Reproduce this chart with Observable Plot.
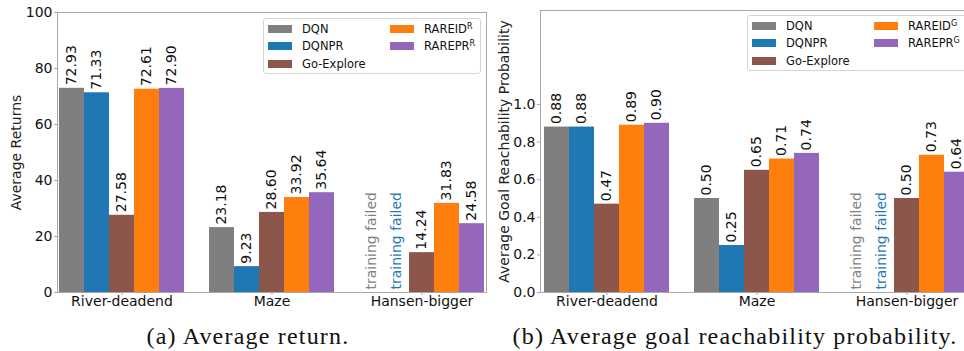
<!DOCTYPE html>
<html><head><meta charset="utf-8">
<script src="https://cdn.jsdelivr.net/npm/d3@7"></script>
<script src="https://cdn.jsdelivr.net/npm/@observablehq/plot@0.6"></script>
<style>
html,body{margin:0;padding:0;background:#fff;overflow:hidden;}
#root{position:relative;width:964px;height:351px;overflow:hidden;font-family:"DejaVu Sans",sans-serif;}
.panel{position:absolute;top:0;}
.panel svg{overflow:visible;max-width:none !important;}
.legend{position:absolute;border:1px solid #d4d4d4;border-radius:3px;background:rgba(255,255,255,0.85);font-size:11.5px;color:#111;box-sizing:border-box;}
.item{position:absolute;white-space:nowrap;line-height:12px;height:12px;}
.sw{position:absolute;width:24px;height:8px;top:2px;}
.lt{position:absolute;left:34px;top:0;}
.lt sup{font-size:0.7em;vertical-align:0;position:relative;top:-0.55em;}
.caption{position:absolute;top:324px;font-family:"Liberation Serif",serif;font-size:24px;line-height:24px;letter-spacing:1.2px;color:#111;transform:translateX(-50%);white-space:nowrap;}
</style></head>
<body><div id="root"></div>
<script>
// ---- data ----
const groups = ["River-deadend", "Maze", "Hansen-bigger"];
const methods = ["DQN", "DQNPR", "Go-Explore", "RAREID", "RAREPR"];
const colors = ["#7f7f7f", "#1f77b4", "#8c564b", "#ff7f0e", "#9467bd"];

// (a) Average return, per method, over groups (null = training failed)
const returnDQN       = [72.93, 23.18, null];
const returnDQNPR     = [71.33, 9.23, null];
const returnGoExplore = [27.58, 28.60, 14.24];
const returnRAREID    = [72.61, 33.92, 31.83];
const returnRAREPR    = [72.90, 35.64, 24.58];

// (b) Average goal reachability probability
const reachDQN       = [0.88, 0.50, null];
const reachDQNPR     = [0.88, 0.25, null];
const reachGoExplore = [0.47, 0.65, 0.50];
const reachRAREID    = [0.89, 0.71, 0.73];
const reachRAREPR    = [0.90, 0.74, 0.64];

const returnTicks = [0, 20, 40, 60, 80, 100];
const reachTicks = [0, 0.2, 0.4, 0.6, 0.8, 1.0];
const failedText = "training failed";

const root = document.getElementById("root");
const spine = "#a8a8a8";

function panel({series, yDomain, yTicks, tickFmt, ylabel, sup, left, width, marginLeft, marginTop, labelOffset, legendLeft, legendTop, legendWidth}) {
  const data = groups.flatMap((g, gi) => methods.map((m, mi) => ({group: g, method: m, value: series[mi][gi]})));
  const slots = groups.flatMap((g, gi) => [...methods.map(m => g + "|" + m), ...(gi < groups.length - 1 ? ["gap" + gi] : [])]);
  const key = d => d.group + "|" + d.method;
  const ok = data.filter(d => d.value != null);
  const failed = data.filter(d => d.value == null);
  const chart = Plot.plot({
    width, height: 320,
    marginLeft, marginTop, marginRight: 4, marginBottom: 28,
    style: {fontFamily: "DejaVu Sans", fontSize: "14px", color: "#111", background: "transparent", overflow: "visible"},
    x: {type: "band", domain: slots, padding: 0, axis: null},
    y: {domain: yDomain, axis: null},
    color: {domain: methods, range: colors},
    marks: [
      Plot.barY(ok, {x: key, y: "value", fill: "method"}),
      Plot.text(ok, {x: key, y: "value", text: d => d.value.toFixed(2), rotate: -90, textAnchor: "start", lineAnchor: "middle", dy: -3, fontSize: 14, fill: "#111"}),
      Plot.text(failed, {x: key, y: () => 0, text: () => failedText, rotate: -90, textAnchor: "start", lineAnchor: "middle", dy: -3, fontSize: 14, fill: "method"}),
      Plot.frame({stroke: spine}),
      Plot.axisY({ticks: yTicks, tickFormat: tickFmt, tickSize: 3, tickPadding: 2, stroke: spine, color: "#111", label: null, fontSize: 14}),
      Plot.axisX({ticks: groups.map(g => g + "|Go-Explore"), tickFormat: s => s.split("|")[0], tickSize: 3, tickPadding: 1, stroke: spine, color: "#111", label: null, fontSize: 14}),
      Plot.text([ylabel], {frameAnchor: "left", rotate: -90, dx: -labelOffset, text: d => d, textAnchor: "middle", lineAnchor: "middle", fontSize: 14, fill: "#222"})
    ]
  });
  const wrap = document.createElement("div");
  wrap.className = "panel";
  wrap.style.left = left + "px";
  wrap.style.width = width + "px";
  wrap.appendChild(chart);
  root.appendChild(wrap);

  // legend (two columns)
  const lg = document.createElement("div");
  lg.className = "legend";
  lg.style.left = legendLeft + "px";
  lg.style.top = legendTop + "px";
  lg.style.width = legendWidth + "px";
  lg.style.height = "56px";
  const rowsY = [4, 21, 39];
  methods.forEach((m, i) => {
    const col = i < 3 ? 0 : 1;
    const row = i < 3 ? i : i - 3;
    const it = document.createElement("div");
    it.className = "item";
    it.style.left = (col === 0 ? 4 : 126) + "px";
    it.style.top = rowsY[row] + "px";
    const sw = document.createElement("span");
    sw.className = "sw";
    sw.style.background = colors[i];
    const t = document.createElement("span");
    t.className = "lt";
    t.textContent = m;
    if (i >= 3) { const s = document.createElement("sup"); s.textContent = sup; t.appendChild(s); }
    it.appendChild(sw); it.appendChild(t);
    lg.appendChild(it);
  });
  root.appendChild(lg);
}

panel({
  series: [returnDQN, returnDQNPR, returnGoExplore, returnRAREID, returnRAREPR],
  yDomain: [0, 100], yTicks: returnTicks, tickFmt: d => String(d),
  ylabel: "Average Returns", sup: "R",
  left: 0, width: 490, marginLeft: 57, marginTop: 12, labelOffset: 41,
  legendLeft: 263, legendTop: 18, legendWidth: 218
});
panel({
  series: [reachDQN, reachDQNPR, reachGoExplore, reachRAREID, reachRAREPR],
  yDomain: [0, 1.5], yTicks: reachTicks, tickFmt: d => d.toFixed(1),
  ylabel: "Average Goal Reachability Probability", sup: "G",
  left: 480, width: 497, marginLeft: 60, marginTop: 10, labelOffset: 36,
  legendLeft: 747, legendTop: 15, legendWidth: 230
});

const caps = [["(a) Average return.", 248], ["(b) Average goal reachability probability.", 735]];
caps.forEach(([txt, cx]) => {
  const c = document.createElement("div");
  c.className = "caption";
  c.style.left = cx + "px";
  c.textContent = txt;
  root.appendChild(c);
});
</script>
</body></html>
